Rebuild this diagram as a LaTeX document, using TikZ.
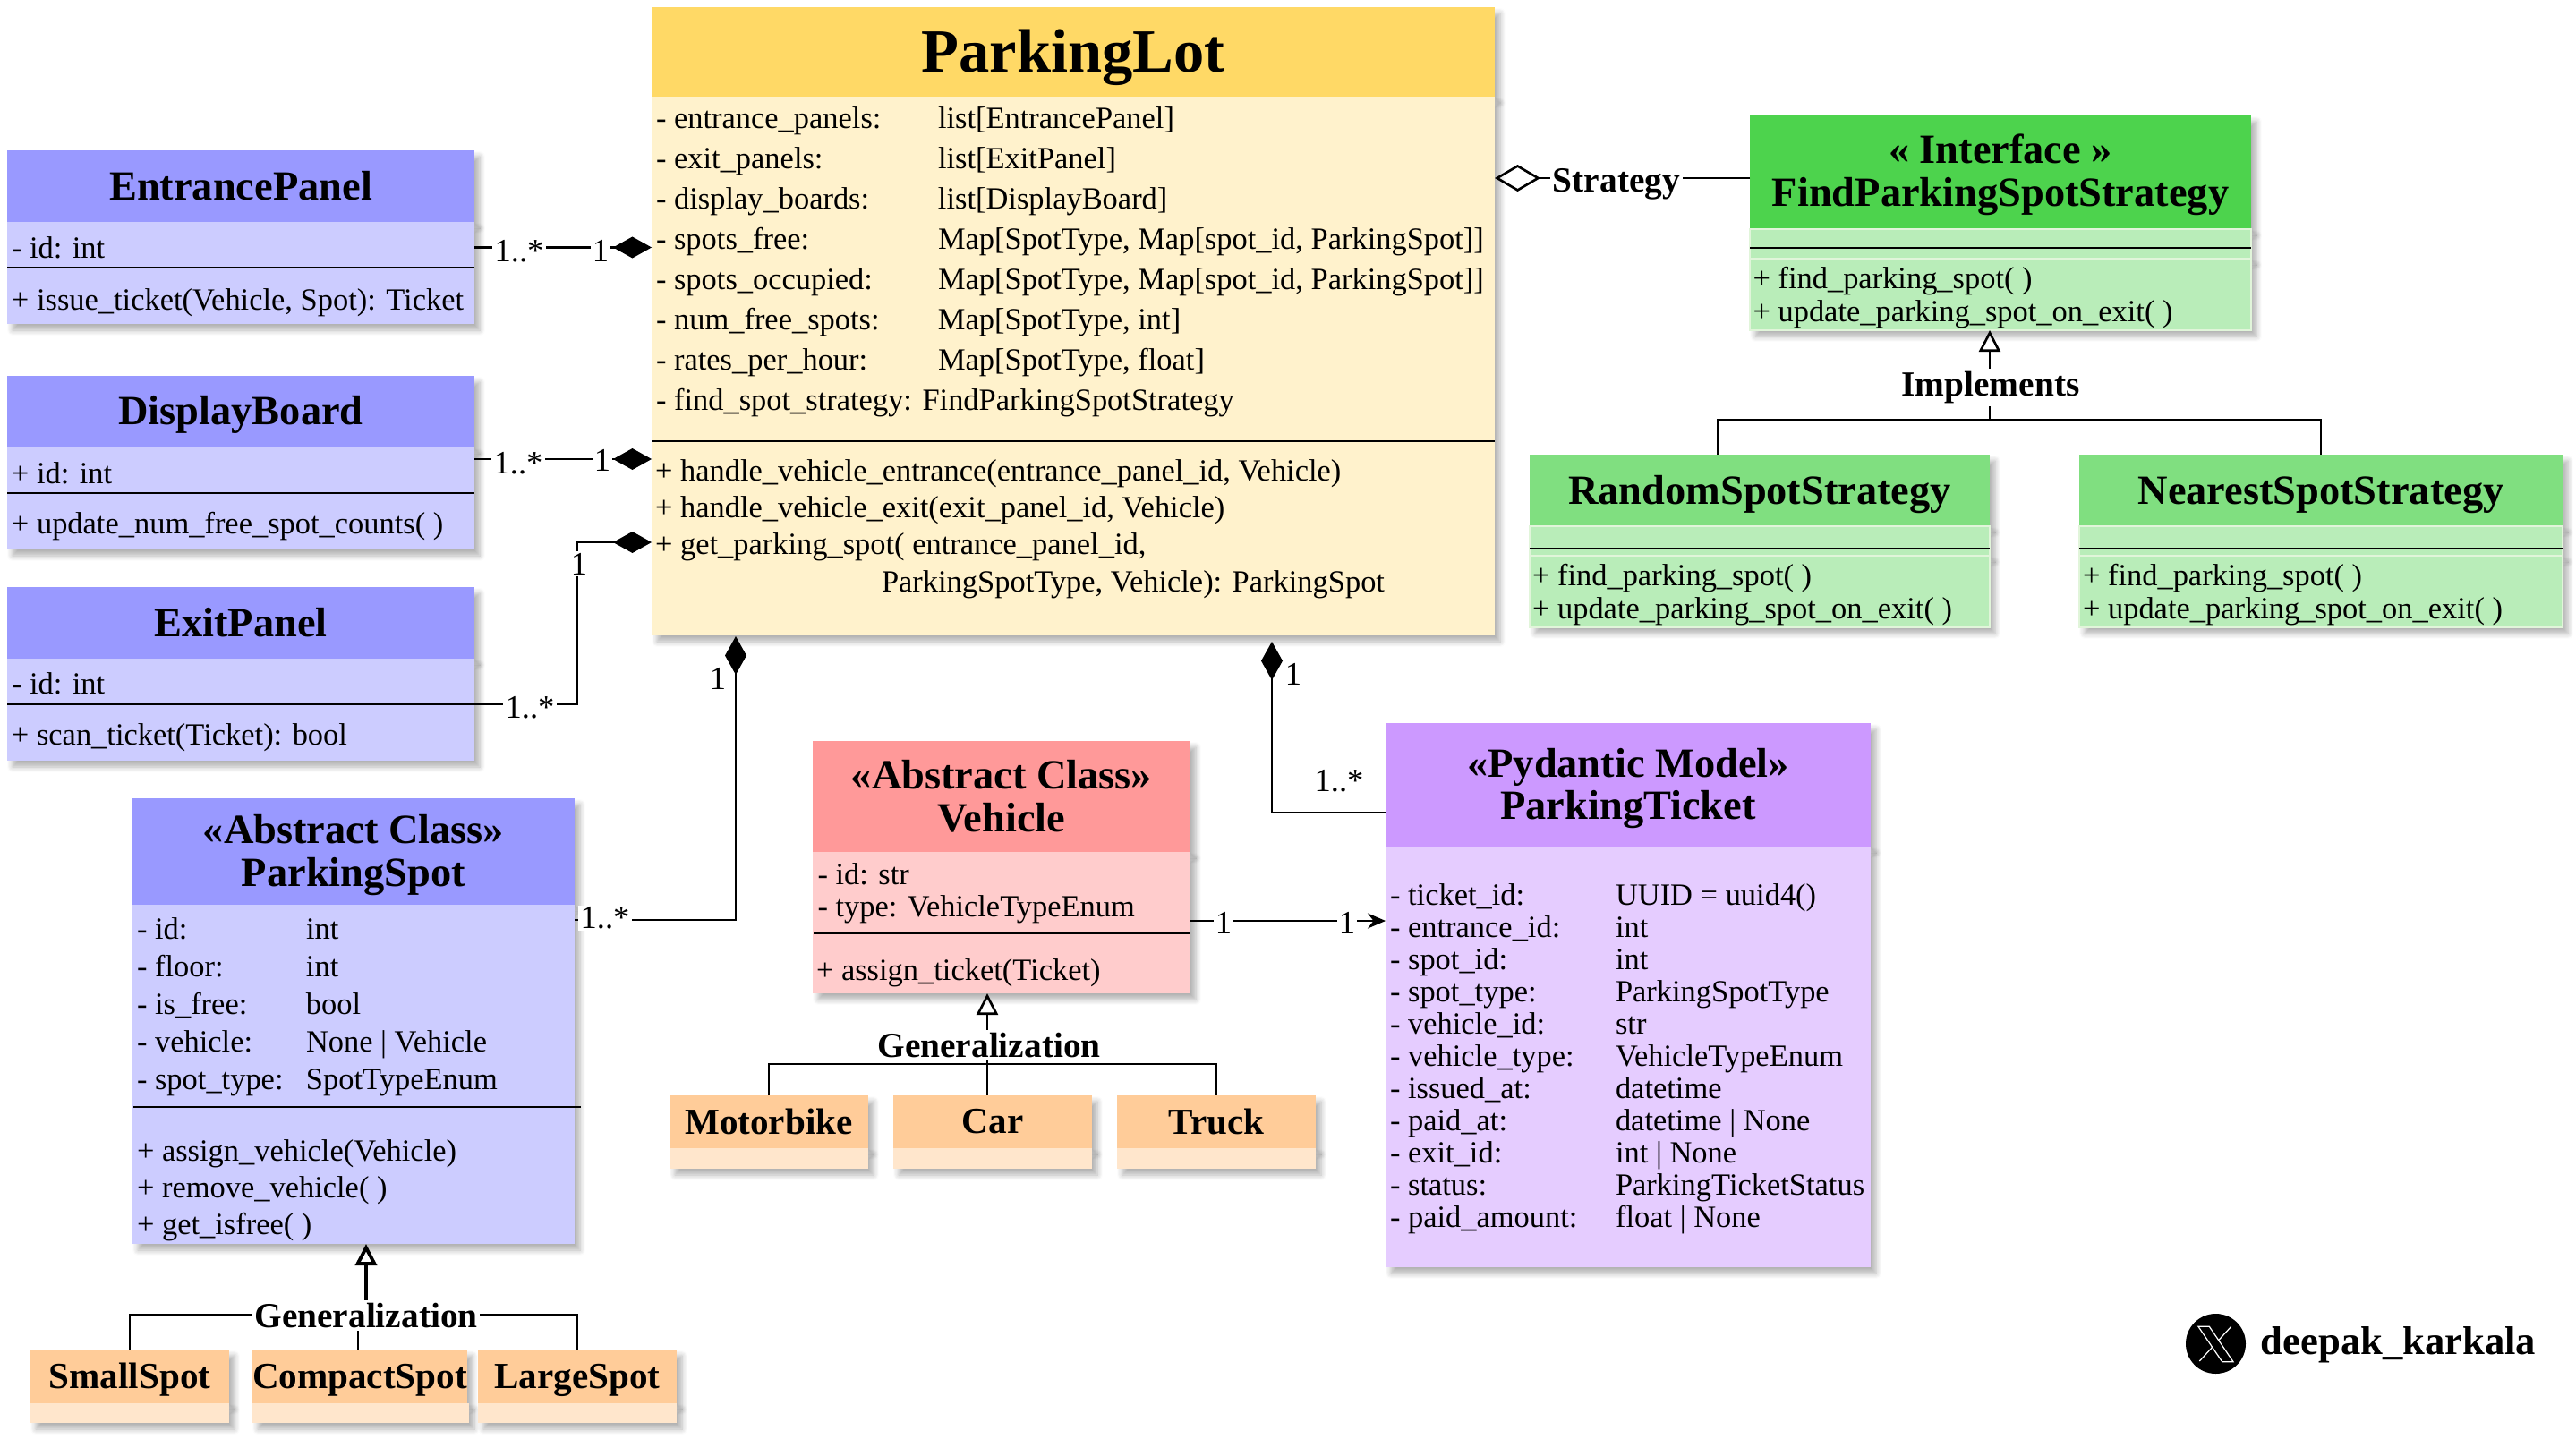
\documentclass[tikz,border=0pt]{standalone}
\usepackage{fontspec}
\setmainfont{Liberation Serif}
\usetikzlibrary{arrows.meta,shadows.blur}
\definecolor{bluehead}{HTML}{9999FF}
\definecolor{bluebody}{HTML}{CCCCFF}
\definecolor{lothead}{HTML}{FFD966}
\definecolor{lotbody}{HTML}{FFF2CC}
\definecolor{greenhead}{HTML}{4DD34D}
\definecolor{greenmid}{HTML}{80DF80}
\definecolor{greenbody}{HTML}{B9EDB9}
\definecolor{greenedge}{HTML}{E1F5DA}
\definecolor{redhead}{HTML}{FF9999}
\definecolor{redbody}{HTML}{FFCCCC}
\definecolor{purplehead}{HTML}{CC99FF}
\definecolor{purplebody}{HTML}{E5CCFF}
\definecolor{orangehead}{HTML}{FFCC99}
\definecolor{orangebody}{HTML}{FFE6CC}
\tikzset{
  softshadow/.style={blur shadow={shadow xshift=.6mm,shadow yshift=-.7mm,shadow blur radius=.6mm,shadow blur steps=6,shadow opacity=30}},
  part/.style={anchor=north west,inner sep=0,outer sep=0,softshadow},
  headbox/.style={part,align=center,font={\fontsize{13.2}{13.6}\selectfont\bfseries}},
  smallhead/.style={part,font={\fontsize{11.7}{13}\selectfont\bfseries}},
  greenpart/.style={part,draw=greenedge,line width=.6pt},
  rowtext/.style={anchor=west,inner sep=0,outer sep=0,yshift=-.03cm,font={\fontsize{9.8}{#1}\selectfont}},
  sepline/.style={line width=.8pt},
  link/.style={line width=.75pt},
  haslink/.style={link,-{Diamond[fill=black,length=.43cm,width=.24cm]}},
  mult/.style={fill=white,inner sep=.6pt,font={\fontsize{10.4}{12}\selectfont}},
  linkword/.style={fill=white,inner sep=.8pt,font={\fontsize{11.2}{13}\selectfont\bfseries}},
  opentip/.style={link,-{Triangle[open,length=.24cm,width=.24cm]}}
}
\begin{document}
\begin{tikzpicture}[y=-1cm]
  \useasboundingbox (0,0) rectangle (28.78,16.08);

  % ParkingLot
  \node[headbox,fill=lothead,minimum width=9.42cm,minimum height=1cm,text height=17.3pt,font={\fontsize{19.5}{21}\selectfont\bfseries}] (parkinglothead) at (7.28,0.08) {ParkingLot};
  \node[part,fill=lotbody,minimum width=9.42cm,minimum height=6.02cm] (parkinglotbody) at (7.28,1.08) {};
  \node[rowtext=12.8] (parkinglotattrs) at (7.33,2.89) {\begin{tabular}{@{}p{3.15cm}@{}l@{}}
    - entrance\_panels: & list[EntrancePanel]\\
    - exit\_panels: & list[ExitPanel]\\
    - display\_boards: & list[DisplayBoard]\\
    - spots\_free: & Map[SpotType, Map[spot\_id, ParkingSpot]]\\
    - spots\_occupied: & Map[SpotType, Map[spot\_id, ParkingSpot]]\\
    - num\_free\_spots: & Map[SpotType, int]\\
    - rates\_per\_hour: & Map[SpotType, float]\\
    \multicolumn{2}{@{}l@{}}{- find\_spot\_strategy: FindParkingSpotStrategy}
  \end{tabular}};
  \draw[sepline] (7.28,4.93) -- (16.70,4.93);
  \node[rowtext=11.75] (parkinglotmethods) at (7.32,5.88) {\begin{tabular}{@{}l@{}}
    + handle\_vehicle\_entrance(entrance\_panel\_id, Vehicle)\\
    + handle\_vehicle\_exit(exit\_panel\_id, Vehicle)\\
    + get\_parking\_spot( entrance\_panel\_id,\\
    \hspace*{2.53cm}ParkingSpotType, Vehicle): ParkingSpot
  \end{tabular}};

  % EntrancePanel
  \node[headbox,fill=bluehead,minimum width=5.22cm,minimum height=.8cm] (entrancehead) at (0.08,1.68) {EntrancePanel};
  \node[part,fill=bluebody,minimum width=5.22cm,minimum height=1.14cm] (entrancebody) at (0.08,2.48) {};
  \node[rowtext=12] (entranceattrs) at (0.13,2.74) {- id: int};
  \draw[sepline] (0.08,2.99) -- (5.30,2.99);
  \node[rowtext=12] (entrancemethods) at (0.13,3.35) {+ issue\_ticket(Vehicle, Spot): Ticket};

  % DisplayBoard
  \node[headbox,fill=bluehead,minimum width=5.22cm,minimum height=.8cm,text height=11pt] (displayhead) at (0.08,4.20) {DisplayBoard};
  \node[part,fill=bluebody,minimum width=5.22cm,minimum height=1.14cm] (displaybody) at (0.08,5.00) {};
  \node[rowtext=12] (displayattrs) at (0.13,5.26) {+ id: int};
  \draw[sepline] (0.08,5.51) -- (5.30,5.51);
  \node[rowtext=12] (displaymethods) at (0.13,5.85) {+ update\_num\_free\_spot\_counts( )};

  % ExitPanel
  \node[headbox,fill=bluehead,minimum width=5.22cm,minimum height=.8cm] (exithead) at (0.08,6.56) {ExitPanel};
  \node[part,fill=bluebody,minimum width=5.22cm,minimum height=1.14cm] (exitbody) at (0.08,7.36) {};
  \node[rowtext=12] (exitattrs) at (0.13,7.61) {- id: int};
  \draw[sepline] (0.08,7.87) -- (5.30,7.87);
  \node[rowtext=12] (exitmethods) at (0.13,8.21) {+ scan\_ticket(Ticket): bool};

  % ParkingSpot
  \node[headbox,fill=bluehead,minimum width=4.94cm,minimum height=1.19cm,text height=25pt] (spothead) at (1.48,8.92) {«Abstract Class»\\ParkingSpot};
  \node[part,fill=bluebody,minimum width=4.94cm,minimum height=3.79cm] (spotbody) at (1.48,10.11) {};
  \node[rowtext=11.95] (spotattrs) at (1.53,11.22) {\begin{tabular}{@{}p{1.89cm}@{}l@{}}
    - id: & int\\
    - floor: & int\\
    - is\_free: & bool\\
    - vehicle: & None | Vehicle\\
    - spot\_type: & SpotTypeEnum
  \end{tabular}};
  \draw[sepline] (1.49,12.37) -- (6.49,12.37);
  \node[rowtext=11.7] (spotmethods) at (1.53,13.27) {\begin{tabular}{@{}l@{}}
    + assign\_vehicle(Vehicle)\\
    + remove\_vehicle( )\\
    + get\_isfree( )
  \end{tabular}};

  % SmallSpot CompactSpot LargeSpot
  \node[smallhead,fill=orangehead,minimum width=2.22cm,minimum height=.6cm,text height=10.3pt] (smallhead) at (0.34,15.08) {SmallSpot};
  \node[part,fill=orangebody,minimum width=2.22cm,minimum height=.22cm] (smallbody) at (0.34,15.68) {};
  \node[smallhead,fill=orangehead,minimum width=2.38cm,minimum height=.6cm,text height=10.3pt] (compacthead) at (2.82,15.08) {CompactSpot};
  \node[part,fill=orangebody,minimum width=2.42cm,minimum height=.22cm] (compactbody) at (2.82,15.68) {};
  \node[smallhead,fill=orangehead,minimum width=2.22cm,minimum height=.6cm,text height=10.3pt] (largehead) at (5.34,15.08) {LargeSpot};
  \node[part,fill=orangebody,minimum width=2.22cm,minimum height=.22cm] (largebody) at (5.34,15.68) {};

  % Vehicle
  \node[headbox,fill=redhead,minimum width=4.22cm,minimum height=1.24cm] (vehiclehead) at (9.08,8.28) {«Abstract Class»\\Vehicle};
  \node[part,fill=redbody,minimum width=4.22cm,minimum height=1.58cm] (vehiclebody) at (9.08,9.52) {};
  \node[rowtext=10.24] (vehicleattrs) at (9.135,9.96) {\begin{tabular}{@{}l@{}}
    - id: str\\
    - type: VehicleTypeEnum
  \end{tabular}};
  \draw[sepline] (9.09,10.43) -- (13.29,10.43);
  \node[rowtext=12] (vehiclemethods) at (9.12,10.84) {+ assign\_ticket(Ticket)};

  % Motorbike Car Truck
  \node[smallhead,fill=orangehead,minimum width=2.22cm,minimum height=.59cm] (motorbikehead) at (7.48,12.24) {Motorbike};
  \node[part,fill=orangebody,minimum width=2.22cm,minimum height=.23cm] (motorbikebody) at (7.48,12.83) {};
  \node[smallhead,fill=orangehead,minimum width=2.22cm,minimum height=.59cm] (carhead) at (9.98,12.24) {Car};
  \node[part,fill=orangebody,minimum width=2.22cm,minimum height=.23cm] (carbody) at (9.98,12.83) {};
  \node[smallhead,fill=orangehead,minimum width=2.22cm,minimum height=.59cm] (truckhead) at (12.48,12.24) {Truck};
  \node[part,fill=orangebody,minimum width=2.22cm,minimum height=.23cm] (truckbody) at (12.48,12.83) {};

  % ParkingTicket
  \node[headbox,fill=purplehead,minimum width=5.42cm,minimum height=1.38cm,text height=25pt] (tickethead) at (15.48,8.08) {«Pydantic Model»\\ParkingTicket};
  \node[part,fill=purplebody,minimum width=5.42cm,minimum height=4.70cm] (ticketbody) at (15.48,9.46) {};
  \node[rowtext=10.24] (ticketattrs) at (15.53,11.81) {\begin{tabular}{@{}p{2.52cm}@{}l@{}}
    - ticket\_id: & UUID = uuid4()\\
    - entrance\_id: & int\\
    - spot\_id: & int\\
    - spot\_type: & ParkingSpotType\\
    - vehicle\_id: & str\\
    - vehicle\_type: & VehicleTypeEnum\\
    - issued\_at: & datetime\\
    - paid\_at: & datetime | None\\
    - exit\_id: & int | None\\
    - status: & ParkingTicketStatus\\
    - paid\_amount: & float | None
  \end{tabular}};

  % FindParkingSpotStrategy
  \node[headbox,fill=greenhead,minimum width=5.60cm,minimum height=1.27cm,text height=24.5pt] (interfacehead) at (19.55,1.29) {« Interface »\\FindParkingSpotStrategy};
  \node[greenpart,fill=greenbody,minimum width=5.60cm,minimum height=.33cm] (interfacemid) at (19.55,2.56) {};
  \node[greenpart,fill=greenbody,minimum width=5.60cm,minimum height=.80cm] (interfacebody) at (19.55,2.89) {};
  \draw[sepline] (19.55,2.77) -- (25.15,2.77);
  \node[rowtext=10.5] (interfacemethods) at (19.585,3.305) {\begin{tabular}{@{}l@{}}
    + find\_parking\_spot( )\\
    + update\_parking\_spot\_on\_exit( )
  \end{tabular}};

  % RandomSpotStrategy
  \node[headbox,fill=greenmid,minimum width=5.14cm,minimum height=.80cm,text height=11.8pt] (randomhead) at (17.09,5.08) {RandomSpotStrategy};
  \node[greenpart,fill=greenbody,minimum width=5.14cm,minimum height=.33cm] (randommid) at (17.09,5.88) {};
  \node[greenpart,fill=greenbody,minimum width=5.14cm,minimum height=.80cm] (randombody) at (17.09,6.21) {};
  \draw[sepline] (17.09,6.13) -- (22.23,6.13);
  \node[rowtext=10.5] (randommethods) at (17.12,6.625) {\begin{tabular}{@{}l@{}}
    + find\_parking\_spot( )\\
    + update\_parking\_spot\_on\_exit( )
  \end{tabular}};

  % NearestSpotStrategy
  \node[headbox,fill=greenmid,minimum width=5.40cm,minimum height=.80cm,text height=11.8pt] (nearesthead) at (23.23,5.08) {NearestSpotStrategy};
  \node[greenpart,fill=greenbody,minimum width=5.40cm,minimum height=.33cm] (nearestmid) at (23.23,5.88) {};
  \node[greenpart,fill=greenbody,minimum width=5.40cm,minimum height=.80cm] (nearestbody) at (23.23,6.21) {};
  \draw[sepline] (23.23,6.13) -- (28.63,6.13);
  \node[rowtext=10.5] (nearestmethods) at (23.27,6.625) {\begin{tabular}{@{}l@{}}
    + find\_parking\_spot( )\\
    + update\_parking\_spot\_on\_exit( )
  \end{tabular}};

  % link ends
  \coordinate (entrancelink) at (5.30,2.765);
  \coordinate (displaylink) at (5.30,5.13);
  \coordinate (exitlink) at (5.30,7.87);
  \coordinate (exitcorner) at (6.45,6.06);
  \coordinate (spotlink) at (6.42,10.28);
  \coordinate (spotjoin) at (8.22,7.11);
  \coordinate (ticketlink) at (15.48,9.08);
  \coordinate (ticketjoin) at (14.21,7.17);
  \coordinate (vehiclelink) at (13.30,10.29);
  \coordinate (strategylink) at (19.55,1.99);
  \coordinate (implementsjoin) at (22.23,4.69);
  \coordinate (randomdrop) at (19.19,5.08);
  \coordinate (nearestdrop) at (25.93,5.08);
  \coordinate (sizejoin) at (4.09,14.69);
  \coordinate (smalldrop) at (1.45,15.08);
  \coordinate (largedrop) at (6.45,15.08);
  \coordinate (typejoin) at (11.03,11.89);
  \coordinate (motorbikedrop) at (8.59,12.24);
  \coordinate (truckdrop) at (13.59,12.24);

  % links
  \draw[haslink] (entrancelink) -- (parkinglotbody.west |- entrancelink);
  \draw[haslink] (displaylink) -- (parkinglotbody.west |- displaylink);
  \draw[haslink] (exitlink) -| (exitcorner) -- (parkinglotbody.west |- exitcorner);
  \draw[haslink] (spotlink) -| (spotjoin);
  \draw[haslink] (ticketlink) -| (ticketjoin);
  \draw[link,-{Stealth[length=.2cm,width=.17cm]}] (vehiclelink) -- (ticketbody.west |- vehiclelink);
  \draw[link,-{Diamond[open,length=.51cm,width=.30cm]}] (strategylink) -- (parkinglotbody.east |- strategylink);
  \draw[opentip] (implementsjoin) -- (interfacebody.south -| implementsjoin);
  \draw[link] (randomdrop) |- (implementsjoin) -| (nearestdrop);
  \draw[opentip,line width=1.1pt] (sizejoin) -- (spotbody.south -| sizejoin);
  \draw[link] (smalldrop) |- (sizejoin) -| (largedrop);
  \draw[link] (compacthead.north) ++(-.02,0) -- ++(0,-.39);
  \draw[opentip] (typejoin) -- (vehiclebody.south -| typejoin);
  \draw[link] (motorbikedrop) |- (typejoin) -| (truckdrop);
  \draw[link] (typejoin) -- (carhead.north -| typejoin);

  % link labels
  \node[mult] (entrancemany) at (5.80,2.81) {1..*};
  \node[mult] (entranceone) at (6.71,2.80) {1};
  \node[mult] (displaymany) at (5.79,5.18) {1..*};
  \node[mult] (displayone) at (6.73,5.14) {1};
  \node[mult] (exitmany) at (5.92,7.91) {1..*};
  \node[mult] (exitone) at (6.47,6.30) {1};
  \node[mult] (spotmany) at (6.76,10.26) {1..*};
  \node[mult] (spotone) at (8.02,7.58) {1};
  \node[mult] (ticketone) at (14.45,7.53) {1};
  \node[mult] (ticketmany) at (14.96,8.73) {1..*};
  \node[mult] (vehicleone) at (13.67,10.31) {1};
  \node[mult] (ticketin) at (15.05,10.31) {1};
  \node[linkword] (strategyword) at (18.06,2.06) {Strategy};
  \node[linkword] (implementsword) at (22.24,4.33) {Implements};
  \node[linkword] (sizeword) at (4.09,14.70) {Generalization};
  \node[linkword] (typeword) at (11.05,11.68) {Generalization};

  % signature
  \node[circle,fill=black,minimum size=.67cm,inner sep=0] (xlogo) at (24.755,15.015) {};
  \draw[white,line width=.35pt] (24.927,14.823) -- (24.573,15.21);
  \draw[white,fill=black,line width=.35pt] (24.56,14.823) -- (24.683,14.823) -- (24.95,15.217) -- (24.827,15.217) -- cycle;
  \node[anchor=west,inner sep=0,font={\fontsize{12.7}{14}\selectfont\bfseries}] (xname) at (25.25,15.03) {deepak\_karkala};
\end{tikzpicture}
\end{document}
